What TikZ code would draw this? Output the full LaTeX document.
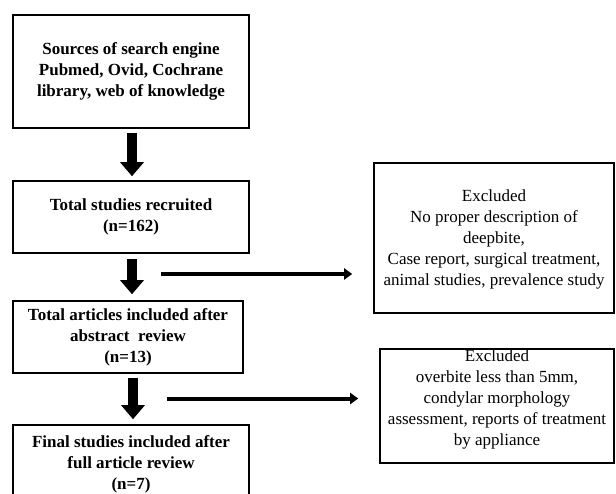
\documentclass[tikz,border=0pt]{standalone}
\usepackage{fontspec}
\setmainfont{Liberation Serif}
\usetikzlibrary{arrows.meta,calc}
\begin{document}
\begin{tikzpicture}[x=1pt,y=-1pt,
  leftbox/.style={draw,line width=1.6pt,align=center,inner sep=0pt,
    font=\bfseries\fontsize{17}{21}\selectfont},
  rightbox/.style={draw,line width=1.6pt,inner sep=0pt},
  rtext/.style={align=center,inner sep=0pt,font=\fontsize{17}{21}\selectfont},
  bigarrow/.style={line width=10pt,-{Triangle[width=23pt,length=14pt]}},
  sidearrow/.style={line width=4pt,-{Triangle[width=11pt,length=8pt]}}]
\useasboundingbox (0,0) rectangle (616,494);
\clip (0,0) rectangle (616,494);
\fill[white] (0,0) rectangle (616,494);
% left column
\node[leftbox,minimum width=236pt,minimum height=113pt] (src) at (131,71.5)
  {Sources of search engine\\Pubmed, Ovid, Cochrane\\library, web of knowledge};
\node[leftbox,minimum width=236pt,minimum height=72pt] (tot) at (131,217)
  {Total studies recruited\\(n=162)};
\node[leftbox,minimum width=230pt,minimum height=72pt] (abs) at (128,337)
  {Total articles included after\\abstract\ \ review\\(n=13)};
\node[leftbox,minimum width=236pt,minimum height=78pt] (fin) at (131,464)
  {Final studies included after\\full article review\\(n=7)};
% right column
\node[rightbox,minimum width=240pt,minimum height=150pt] (ex1) at (494,238) {};
\node[rtext] (ex1t) at (494,239.5)
  {Excluded\\No proper description of\\deepbite,\\Case report, surgical treatment,\\animal studies, prevalence study};
\node[rightbox,minimum width=234pt,minimum height=114pt] (ex2) at (497,406) {};
\node[rtext] (ex2t) at (497,399.5)
  {Excluded\\overbite less than 5mm,\\condylar morphology\\assessment, reports of treatment\\by appliance};
% vertical arrows
\draw[bigarrow,shorten <=4pt,shorten >=4pt] ($(src.south)+(1,0)$) -- ($(tot.north)+(1,0)$);
\draw[bigarrow,shorten <=5pt,shorten >=6pt] ($(tot.south)+(1,0)$) -- ($(tot.south|-abs.north)+(1,0)$);
\draw[bigarrow,shorten <=4pt,shorten >=5pt] ($(tot.south|-abs.south)+(2,0)$) -- ($(fin.north)+(2,0)$);
% side arrows
\coordinate (h1) at (161,274);
\coordinate (h2) at (167,398.5);
\draw[sidearrow,shorten >=21pt] (h1) -- (h1-|ex1.west);
\draw[sidearrow,shorten >=21pt] (h2) -- (h2-|ex2.west);
\end{tikzpicture}
\end{document}
